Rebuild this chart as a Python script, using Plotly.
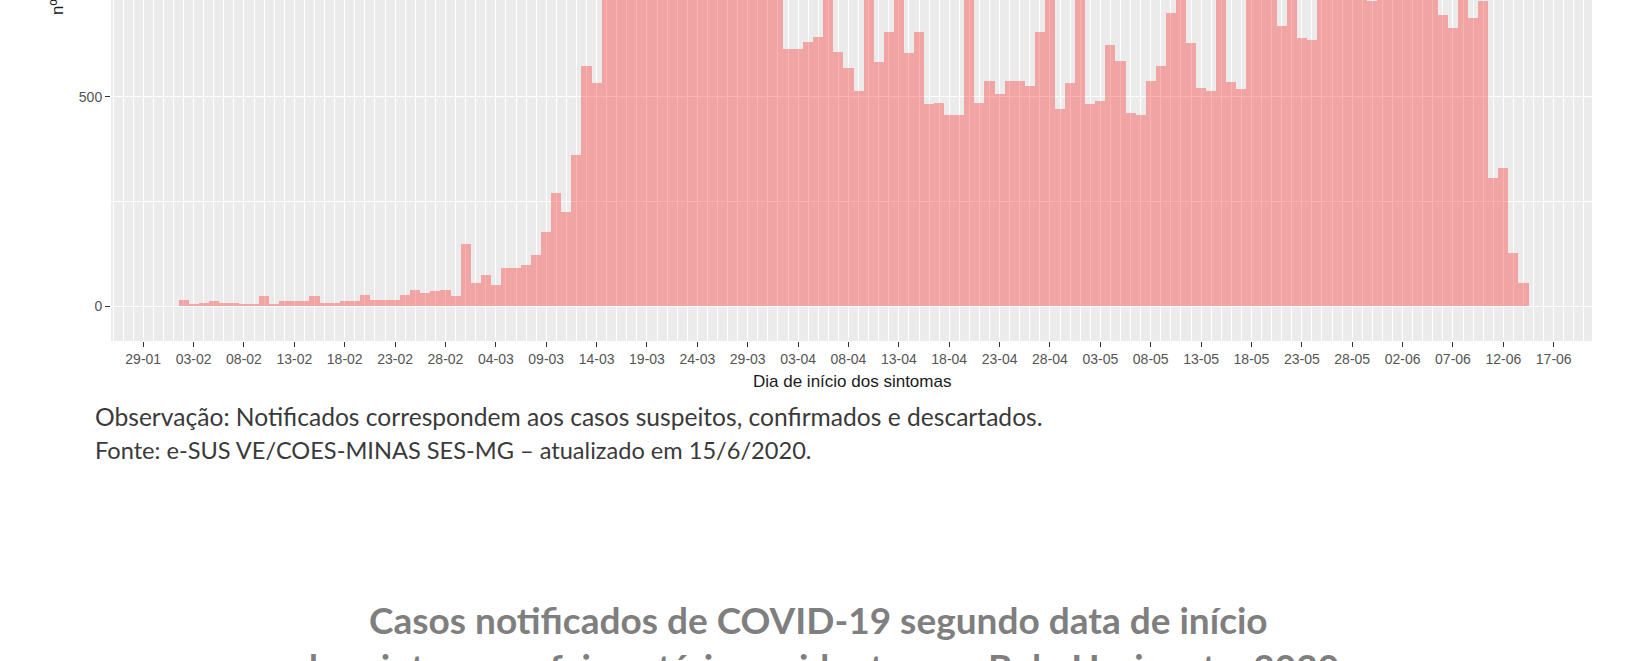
import plotly.graph_objects as go
import pandas as pd

# ---- data (cases by day of symptom onset) ----
start_date = "2020-02-02"
feb = [15, 4, 7, 11, 7, 7, 4, 4, 24, 4, 11, 11, 11, 24, 7, 7, 11, 11, 27, 15,
       15, 15, 27, 39, 31, 35, 39, 24]
mar = [149, 54, 74, 51, 90, 90, 98, 121, 176, 271, 224, 361, 572, 533,
       820, 1010, 1650, 1180, 1090, 1150, 960, 900, 1250, 1180, 1100, 1050, 1000,
       880, 820, 1050, 950]
apr = [880, 613, 613, 631, 643, 760, 607, 569, 514, 780, 582, 655, 760, 605, 654,
       482, 486, 455, 455, 800, 486, 537, 506, 537, 537, 525, 654, 760, 471, 533]
may = [760, 482, 490, 623, 584, 462, 455, 537, 572, 699, 780, 628, 521, 514, 760,
       534, 518, 820, 900, 850, 668, 790, 639, 636, 800, 900, 850, 780, 760, 728, 800]
jun = [900, 1000, 950, 880, 820, 695, 663, 780, 687, 729, 305, 329, 126, 54]

values = feb + mar + apr + may + jun
dates = pd.date_range(start_date, periods=len(values), freq="D")

x_title = "Dia de início dos sintomas"
y_title = "nº de casos"
note_text = "Observação: Notificados correspondem aos casos suspeitos, confirmados e descartados."
source_text = "Fonte: e-SUS VE/COES-MINAS SES-MG – atualizado em 15/6/2020."
title_line1 = "Casos notificados de COVID-19 segundo data de início"
title_line2 = "dos sintomas e faixa etária, residentes em Belo Horizonte, 2020"

# ---- layout geometry (pixels) ----
W, H = 1634, 661
L, R, T, B = 111, 1592, 0, 341
DAY = 86400000

def px(xp):
    return (xp - L) / (R - L)

def py(yp):
    return (B - yp) / (B - T)

fig = go.Figure()
fig.add_trace(go.Bar(
    x=dates, y=values, width=DAY,
    marker=dict(color="rgba(255,0,0,0.3)", line=dict(width=0)),
    showlegend=False, hoverinfo="x+y",
))

tick_font = dict(family="Arial, Liberation Sans, sans-serif", size=14, color="#555555")

fig.update_layout(
    width=W, height=H,
    margin=dict(l=L, r=W - R, t=T, b=H - B, pad=0),
    paper_bgcolor="white", plot_bgcolor="#EBEBEB",
    bargap=0,
    xaxis=dict(
        type="date",
        range=["2020-01-25 19:12", "2020-06-20 19:12"],
        tick0="2020-01-29", dtick=5 * DAY, tickformat="%d-%m",
        ticks="outside", ticklen=5, tickwidth=1.2, tickcolor="#333333",
        tickfont=tick_font,
        showgrid=True, gridcolor="white", gridwidth=1.3,
        minor=dict(dtick=DAY, tick0="2020-01-29", showgrid=True,
                   gridcolor="white", gridwidth=0.8, ticks=""),
        zeroline=False, showline=False,
    ),
    yaxis=dict(
        range=[-83.6, 730.8],
        tickvals=[0, 500, 1000, 1500], ticktext=["0", "500", "1000", "1500"],
        ticks="outside", ticklen=5, tickwidth=1.2, tickcolor="#333333",
        tickfont=tick_font,
        showgrid=True, gridcolor="white", gridwidth=1.3,
        minor=dict(tickvals=[250, 750, 1250], showgrid=True,
                   gridcolor="white", gridwidth=0.8, ticks=""),
        zeroline=False, showline=False,
    ),
)

ann = []
ann.append(dict(text=x_title, x=px(852), y=py(382), xref="paper", yref="paper",
                xanchor="center", yanchor="middle", showarrow=False,
                font=dict(family="Arial, Liberation Sans, sans-serif", size=17, color="#1A1A1A")))
ann.append(dict(text=y_title, x=px(58), y=py(17), xref="paper", yref="paper",
                xanchor="center", yanchor="bottom", textangle=-90, showarrow=False,
                font=dict(family="Arial, Liberation Sans, sans-serif", size=17, color="#1A1A1A")))
ann.append(dict(text=note_text, x=px(93), y=py(416), xref="paper", yref="paper",
                xanchor="left", yanchor="middle", showarrow=False,
                font=dict(family="Lato, sans-serif", size=24.6, color="#3A3A3A")))
ann.append(dict(text=source_text, x=px(93), y=py(450), xref="paper", yref="paper",
                xanchor="left", yanchor="middle", showarrow=False,
                font=dict(family="Lato, sans-serif", size=23.6, color="#3A3A3A")))
ann.append(dict(text="<b>" + title_line1 + "</b>", x=px(818), y=py(619), xref="paper", yref="paper",
                xanchor="center", yanchor="middle", showarrow=False,
                font=dict(family="Lato, sans-serif", size=37, color="#7F7F7F")))
ann.append(dict(text="<b>" + title_line2 + "</b>", x=px(818), y=py(666), xref="paper", yref="paper",
                xanchor="center", yanchor="middle", showarrow=False,
                font=dict(family="Lato, sans-serif", size=37, color="#7F7F7F")))
fig.update_layout(annotations=ann)

fig.write_html("out.html", config={"displayModeBar": False},
               post_script="document.body.style.margin='0';document.body.style.overflow='hidden';")
